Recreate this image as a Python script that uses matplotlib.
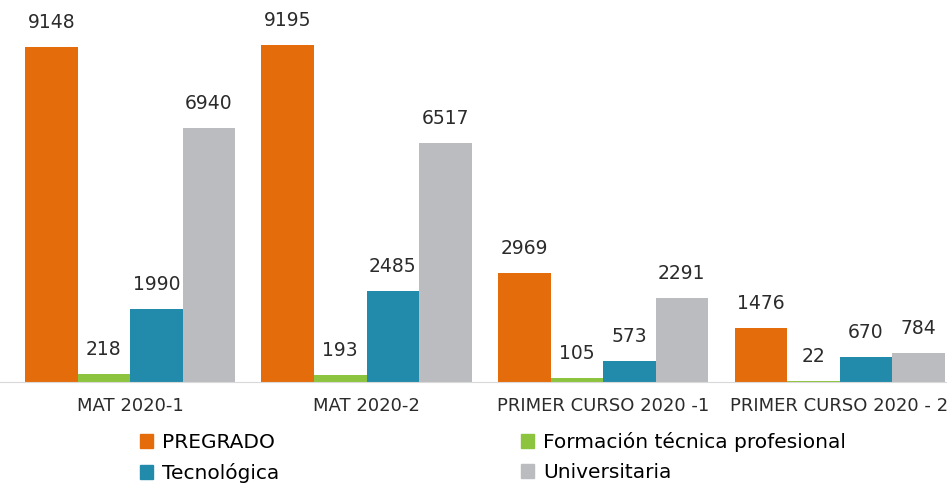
import numpy as np
import matplotlib.pyplot as plt
from matplotlib.patches import Patch

plt.rcParams['font.family'] = ['DejaVu Sans']

categorias = ['MAT 2020-1', 'MAT 2020-2', 'PRIMER CURSO 2020 -1', 'PRIMER CURSO 2020 - 2']
series = ['PREGRADO', 'Formación técnica profesional', 'Tecnológica', 'Universitaria']
pregrado = [9148, 9195, 2969, 1476]
tecnica = [218, 193, 105, 22]
tecnologica = [1990, 2485, 573, 670]
universitaria = [6940, 6517, 2291, 784]
colores = ['#E46C0A', '#8CC43F', '#228AAA', '#BABCBF']

valores = [pregrado, tecnica, tecnologica, universitaria]

fig = plt.figure(figsize=(9.47, 4.84), dpi=100)
ax = fig.add_axes([0, 102 / 484, 1, 382 / 484])

x = np.arange(len(categorias))
w = 0.222
for i, (vals, col) in enumerate(zip(valores, colores)):
    pos = x + (i - 1.5) * w
    ax.bar(pos, vals, width=w, color=col)
    for p, v in zip(pos, vals):
        ax.annotate(str(v), (p, v), xytext=(0, 11), textcoords='offset points',
                    ha='center', va='bottom', fontsize=13.5, color='#2b2b2b')

ax.set_xlim(-0.5497, 3.4545)
ax.set_ylim(0, 10431)
ax.set_xticks(x)
ax.set_xticklabels(categorias, fontsize=13, color='#2b2b2b')
ax.tick_params(axis='x', length=0, pad=11)
ax.set_yticks([])
for s in ['top', 'right', 'left']:
    ax.spines[s].set_visible(False)
ax.spines['bottom'].set_color('#D9D9D9')

# legend: two columns, PREGRADO/Tecnológica on the left
orden = [0, 2, 1, 3]
handles = [Patch(color=colores[i]) for i in orden]
labels = [series[i] for i in orden]
fig.legend(handles, labels, ncol=2, loc='upper left', bbox_to_anchor=(140 / 947, 1 - 432 / 484),
           frameon=False, fontsize=14.5, handlelength=0.65, handleheight=0.65, handletextpad=0.45,
           labelspacing=0.55, columnspacing=12, borderpad=0, borderaxespad=0)

fig.savefig('out.png', dpi=100)
